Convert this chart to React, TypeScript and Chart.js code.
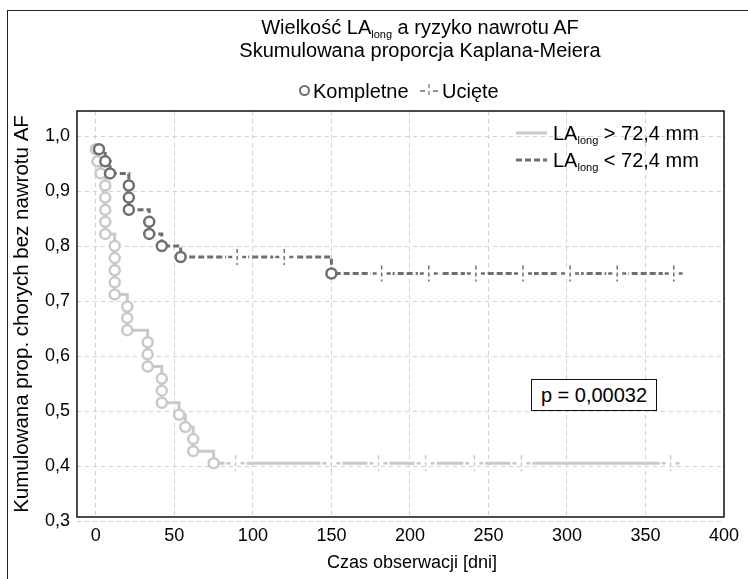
import React, { useEffect, useRef } from 'react';
import { Chart, registerables } from 'chart.js';

Chart.register(...registerables);

// ---- data ----
// LA_long > 72,4 mm (light grey, solid)
const lightDays = [0, 1, 3, 6, 6, 6, 6, 6, 12, 12, 12, 12, 12, 20, 20, 20, 33, 33, 33, 42, 42, 42, 53, 57, 62, 62, 75, 89, 150, 180, 210, 241, 271, 366];
const lightValues = [0.976, 0.954, 0.932, 0.910, 0.888, 0.866, 0.844, 0.822, 0.800, 0.778, 0.756, 0.734, 0.712, 0.690, 0.669, 0.647, 0.625, 0.603, 0.581, 0.559, 0.537, 0.515, 0.493, 0.471, 0.449, 0.427, 0.405, 0.405, 0.405, 0.405, 0.405, 0.405, 0.405, 0.405];
const lightCensored = [0, 0, 0, 0, 0, 0, 0, 0, 0, 0, 0, 0, 0, 0, 0, 0, 0, 0, 0, 0, 0, 0, 0, 0, 0, 0, 0, 1, 1, 1, 1, 1, 1, 1];

// LA_long < 72,4 mm (dark grey, dashed)
const darkDays = [2, 6, 9, 21, 21, 21, 34, 34, 42, 54, 90, 120, 150, 182, 212, 242, 272, 302, 332, 368];
const darkValues = [0.976, 0.954, 0.932, 0.910, 0.888, 0.866, 0.844, 0.822, 0.800, 0.780, 0.780, 0.780, 0.750, 0.750, 0.750, 0.750, 0.750, 0.750, 0.750, 0.750];
const darkCensored = [0, 0, 0, 0, 0, 0, 0, 0, 0, 0, 1, 1, 0, 1, 1, 1, 1, 1, 1, 1];

const xTickValues = [0, 50, 100, 150, 200, 250, 300, 350, 400];
const yTickValues = [0.3, 0.4, 0.5, 0.6, 0.7, 0.8, 0.9, 1.0];

const titleLine1 = ['Wielkość LA', 'long', ' a ryzyko nawrotu AF'];
const titleLine2 = 'Skumulowana proporcja Kaplana-Meiera';
const legendLight = ['LA', 'long', ' > 72,4 mm'];
const legendDark = ['LA', 'long', ' < 72,4 mm'];
const pText = 'p = 0,00032';
const xTitle = 'Czas obserwacji [dni]';
const yTitle = 'Kumulowana prop. chorych bez nawrotu AF';

const LIGHT = '#c9c9c9';
const DARK = '#6f6f6f';
const FONT = '"Liberation Sans", Arial, Helvetica, sans-serif';

const censorPlugin = {
  id: 'censorMarks',
  afterDatasetsDraw(chart: any) {
    const ctx = chart.ctx;
    chart.data.datasets.forEach((ds: any, di: number) => {
      const meta = chart.getDatasetMeta(di);
      const flags = ds.censored as number[];
      meta.data.forEach((pt: any, i: number) => {
        if (!flags[i]) return;
        const x = pt.x;
        const y = pt.y;
        ctx.save();
        ctx.fillStyle = '#ffffff';
        ctx.fillRect(x - 11, y - 2.5, 22, 5);
        ctx.strokeStyle = ds.borderColor;
        ctx.lineWidth = 2.5;
        ctx.beginPath();
        ctx.moveTo(x - 9, y);
        ctx.lineTo(x - 5, y);
        ctx.moveTo(x + 5, y);
        ctx.lineTo(x + 9, y);
        ctx.stroke();
        ctx.lineWidth = 1.5;
        ctx.setLineDash([4, 3]);
        ctx.beginPath();
        ctx.moveTo(x, y - 8);
        ctx.lineTo(x, y + 8);
        ctx.stroke();
        ctx.restore();
      });
    });
  },
};

const framePlugin = {
  id: 'plotFrame',
  afterDraw(chart: any) {
    const { ctx, chartArea } = chart;
    ctx.save();
    ctx.strokeStyle = '#111';
    ctx.lineWidth = 1.5;
    ctx.strokeRect(chartArea.left, chartArea.top, chartArea.right - chartArea.left, chartArea.bottom - chartArea.top);
    ctx.restore();
  },
};

function Sub({ parts, size }: { parts: string[]; size: number }) {
  return (
    <span>
      {parts[0]}
      <span style={{ fontSize: Math.round(size * 0.55), verticalAlign: -4, lineHeight: 0 }}>{parts[1]}</span>
      {parts[2]}
    </span>
  );
}

const textStyle = (left: number, top: number, size: number, extra: any = {}) => ({
  position: 'absolute' as const,
  left,
  top,
  fontSize: size,
  lineHeight: '24px',
  height: 24,
  whiteSpace: 'nowrap' as const,
  ...extra,
});

export default function App() {
  const canvasRef = useRef<HTMLCanvasElement | null>(null);

  useEffect(() => {
    const canvas = canvasRef.current;
    if (!canvas) return;
    const gridOpts = { color: '#d0d0d0', lineWidth: 1, drawTicks: false };
    const chart = new Chart(canvas, {
      type: 'line',
      data: {
        datasets: [
          {
            label: 'dark',
            data: darkDays.map((d, i) => ({ x: d, y: darkValues[i] })),
            borderColor: DARK,
            borderWidth: 3,
            borderDash: [6, 3],
            stepped: 'before',
            fill: false,
            pointRadius: darkCensored.map((c) => (c ? 0 : 5)),
            pointBorderWidth: 2.5,
            pointBackgroundColor: '#ffffff',
            pointBorderColor: DARK,
            censored: darkCensored,
          } as any,
          {
            label: 'light',
            data: lightDays.map((d, i) => ({ x: d, y: lightValues[i] })),
            borderColor: LIGHT,
            borderWidth: 3,
            stepped: 'before',
            fill: false,
            pointRadius: lightCensored.map((c) => (c ? 0 : 5)),
            pointBorderWidth: 2.5,
            pointBackgroundColor: '#ffffff',
            pointBorderColor: LIGHT,
            censored: lightCensored,
          } as any,
        ],
      },
      options: {
        responsive: false,
        animation: false,
        events: [],
        layout: { padding: { left: 0, top: 111, right: 24, bottom: 0 } },
        plugins: { legend: { display: false }, tooltip: { enabled: false }, title: { display: false } },
        scales: {
          x: {
            type: 'linear',
            min: -12,
            max: 400,
            afterFit: (s: any) => {
              s.height = 62;
            },
            afterBuildTicks: (s: any) => {
              s.ticks = xTickValues.map((v) => ({ value: v }));
            },
            grid: gridOpts,
            border: { display: false, dash: [4, 4] },
            ticks: {
              color: '#000',
              font: { family: FONT, size: 18 },
              padding: 8,
              maxRotation: 0,
              autoSkip: false,
              callback: (v: any) => String(v),
            },
            title: { display: false },
          },
          y: {
            type: 'linear',
            min: 0.3073,
            max: 1.0455,
            afterFit: (s: any) => {
              s.width = 77;
            },
            afterBuildTicks: (s: any) => {
              s.ticks = yTickValues.map((v) => ({ value: v }));
            },
            grid: gridOpts,
            border: { display: false, dash: [4, 4] },
            ticks: {
              color: '#000',
              font: { family: FONT, size: 18 },
              padding: 7,
              autoSkip: false,
              callback: (v: any) => (Math.round(Number(v) * 10) / 10).toFixed(1).replace('.', ','),
            },
            title: {
              display: true,
              text: yTitle,
              color: '#000',
              font: { family: FONT, size: 20.5 },
              padding: { top: 10, bottom: 0 },
            },
          },
        },
      } as any,
      plugins: [censorPlugin, framePlugin],
    });
    return () => chart.destroy();
  }, []);

  return (
    <div
      style={{
        position: 'absolute',
        left: 0,
        top: 0,
        width: 748,
        height: 579,
        overflow: 'hidden',
        background: '#fff',
        fontFamily: FONT,
        color: '#000',
      }}
    >
      <div
        style={{
          position: 'absolute',
          left: 7,
          top: 10,
          width: 800,
          height: 700,
          borderTop: '1.5px solid #222',
          borderLeft: '1.5px solid #222',
        }}
      />
      <canvas ref={canvasRef} width={748} height={579} style={{ position: 'absolute', left: 0, top: 0 }} />

      {/* title */}
      <div style={textStyle(120, 15, 20, { width: 600, textAlign: 'center' })}>
        <Sub parts={titleLine1} size={20} />
      </div>
      <div style={textStyle(120, 38, 20, { width: 600, textAlign: 'center' })}>{titleLine2}</div>

      {/* top legend */}
      <div
        style={{
          position: 'absolute',
          left: 299,
          top: 85,
          width: 7,
          height: 7,
          border: `2.5px solid ${DARK}`,
          borderRadius: '50%',
        }}
      />
      <div style={textStyle(313, 79, 20)}>Kompletne</div>
      <svg style={{ position: 'absolute', left: 419, top: 82 }} width={20} height={18}>
        <line x1={1} y1={9} x2={6} y2={9} stroke={DARK} strokeWidth={1.5} />
        <line x1={14} y1={9} x2={19} y2={9} stroke={DARK} strokeWidth={1.5} />
        <line x1={10} y1={2} x2={10} y2={16} stroke={DARK} strokeWidth={1.2} strokeDasharray="4 3" />
      </svg>
      <div style={textStyle(442, 79, 20)}>Ucięte</div>

      {/* inner legend */}
      <svg style={{ position: 'absolute', left: 515, top: 125 }} width={34} height={42}>
        <line x1={1} y1={8} x2={32} y2={8} stroke={LIGHT} strokeWidth={3} />
        <line x1={1} y1={35} x2={32} y2={35} stroke={DARK} strokeWidth={3} strokeDasharray="6 3" />
      </svg>
      <div style={textStyle(553, 121, 20)}>
        <Sub parts={legendLight} size={20} />
      </div>
      <div style={textStyle(553, 148, 20)}>
        <Sub parts={legendDark} size={20} />
      </div>

      {/* p value box */}
      <div
        style={{
          position: 'absolute',
          left: 531,
          top: 379,
          width: 124,
          height: 30,
          border: '1.5px solid #111',
          background: '#fff',
          textAlign: 'center',
          fontSize: 20,
          lineHeight: '30px',
          whiteSpace: 'nowrap',
        }}
      >
        {pText}
      </div>

      {/* x axis title */}
      <div style={textStyle(262, 550, 18, { width: 300, textAlign: 'center' })}>{xTitle}</div>
    </div>
  );
}
